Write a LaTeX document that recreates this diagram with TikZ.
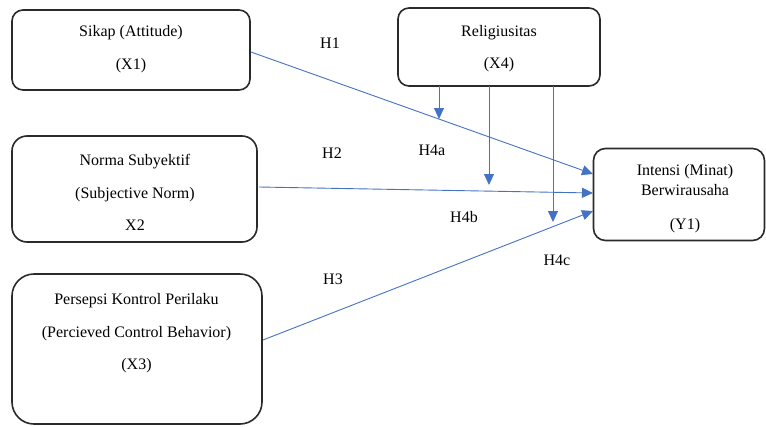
\documentclass[tikz,border=0pt]{standalone}
\usepackage{fontspec}
\setmainfont{Liberation Serif}
\usetikzlibrary{arrows.meta}
\definecolor{arrowblue}{HTML}{4472C4}
\definecolor{boxline}{HTML}{2A2A2A}
\tikzset{
  box/.style={draw=boxline, line width=1.6pt, fill=white, inner sep=0pt},
  txt/.style={align=center, inner sep=0pt, font=\fontsize{16}{32.5}\selectfont},
  hlabel/.style={inner sep=0pt, font=\fontsize{16}{19}\selectfont},
  link/.style={draw=arrowblue, line width=0.9pt, -{Triangle[length=11pt,width=10pt]}}
}
\begin{document}
\begin{tikzpicture}[x=1pt,y=-1pt]
\useasboundingbox (0,0) rectangle (766,426);
% boxes
\node[box, rounded corners=11pt, minimum width=238pt, minimum height=80pt] (x1) at (131,50) {};
\node[box, rounded corners=15pt, minimum width=245pt, minimum height=106pt] (x2) at (134.5,189) {};
\node[box, rounded corners=22pt, minimum width=250pt, minimum height=150pt] (x3) at (137,349) {};
\node[box, rounded corners=11pt, minimum width=202pt, minimum height=78pt] (x4) at (499,47) {};
\node[box, rounded corners=12pt, minimum width=171pt, minimum height=92pt] (y1) at (679,194.5) {};
% texts
\node[txt] (x1t) at (131,49) {Sikap (Attitude)\\(X1)};
\node[txt] (x2t) at (135,192.5) {Norma Subyektif\\(Subjective Norm)\\X2};
\node[txt] (x3t) at (136.5,333.5) {Persepsi Kontrol Perilaku\\(Percieved Control Behavior)\\(X3)};
\node[txt] (x4t) at (499,48.5) {Religiusitas\\(X4)};
\node[txt, font=\fontsize{16}{20}\selectfont] (y1t) at (685,199) {Intensi (Minat)\\Berwirausaha\\[14pt](Y1)};
% anchor points
\coordinate (x1o) at (251,52);
\coordinate (x2o) at (259,187);
\coordinate (x3o) at (263,340);
\coordinate (y1a) at (593,174);
\coordinate (y1b) at (593,193);
\coordinate (y1c) at (593,211);
\coordinate (x4a) at (439,86);
\coordinate (x4b) at (489,86);
\coordinate (x4c) at (553,86);
\coordinate (h4a) at (439,119);
\coordinate (h4b) at (489,185);
\coordinate (h4c) at (553,222);
% connectors
\draw[link] (x1o) -- (y1a);
\draw[link] (x2o) -- (y1b);
\draw[link] (x3o) -- (y1c);
\draw[link] (x4a) -- (h4a);
\draw[link] (x4b) -- (h4b);
\draw[link] (x4c) -- (h4c);
% labels
\node[hlabel] (lh1) at (330,43) {H1};
\node[hlabel] (lh2) at (332,153) {H2};
\node[hlabel] (lh3) at (333,279) {H3};
\node[hlabel] (lh4a) at (432,150) {H4a};
\node[hlabel] (lh4b) at (464,217) {H4b};
\node[hlabel] (lh4c) at (557,260) {H4c};
\end{tikzpicture}
\end{document}
